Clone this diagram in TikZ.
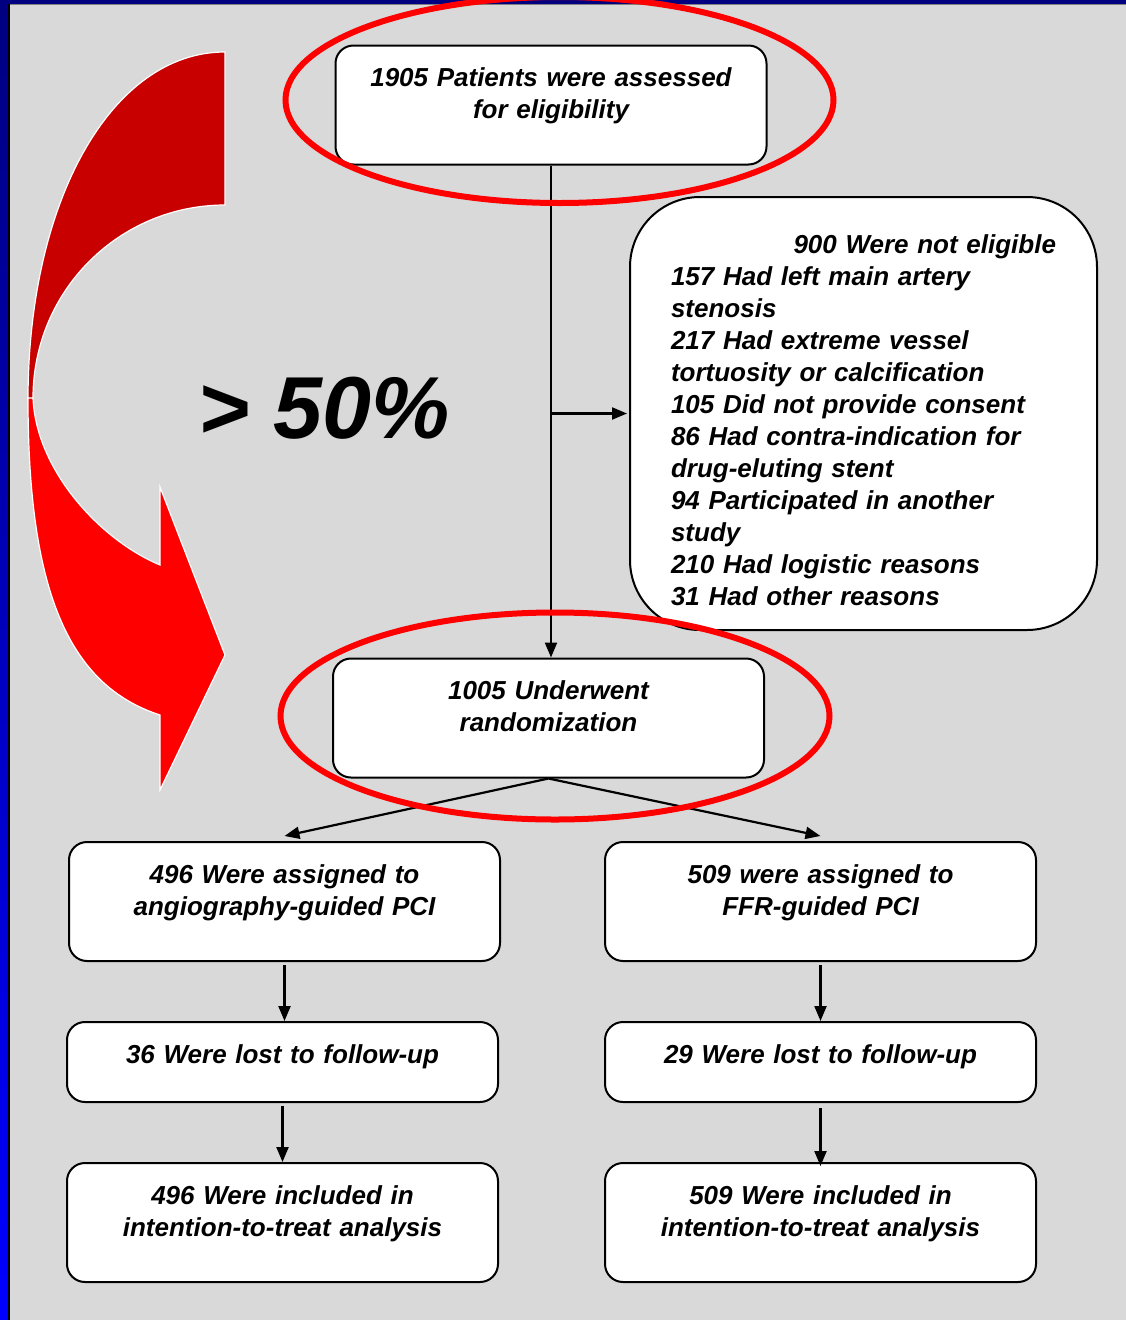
\documentclass[tikz,border=0pt]{standalone}
\usepackage{fontspec}
\setmainfont{Liberation Sans}
\usetikzlibrary{arrows.meta}
\definecolor{slide}{RGB}{217,217,217}
\definecolor{navy}{RGB}{0,0,128}
\definecolor{darkred}{RGB}{200,0,0}
\newcommand{\boxfont}{\fontsize{26}{32}\selectfont\bfseries\itshape}

\begin{document}
\begin{tikzpicture}[x=1pt, y=-1pt,
  box/.style={draw, line width=2pt, fill=white, rounded corners=18pt,
    text width=411pt, inner xsep=10pt, inner ysep=0pt, align=center,
    text height=41pt, font=\boxfont},
  tall/.style={text depth=78pt},
  flat/.style={text depth=39pt},
  arr/.style={-{Triangle[length=15pt,width=12pt]}, line width=2.2pt},
  ring/.style={red, line width=6pt},
  ribbon/.style={draw=white, line width=1.2pt}]
\useasboundingbox (0,0) rectangle (1126,1320);
% slide background and frame
\fill[slide] (0,0) rectangle (1126,1320);
\shade[top color=navy, bottom color=blue] (0,0) rectangle (8,1320);
\fill[navy] (0,0) rectangle (1126,4);
\draw[gray, line width=1.2pt] (9,4.6) -- (1126,4.6);
\draw[black, line width=1.8pt] (8.9,4) -- (8.9,1320);

% curved arrow on the left
\filldraw[ribbon, fill=darkred] (225,52) .. controls (112,52) and (28,200) .. (28,400)
  -- (33,398) .. controls (33,290) and (120,205) .. (225,205) -- cycle;
\filldraw[ribbon, fill=red] (28,398) .. controls (28,590) and (68,685) .. (160,715)
  -- (160,790) -- (225,655) -- (160,487) -- (160,565)
  .. controls (100,540) and (36,470) .. (33,398) -- cycle;
\node[font=\fontsize{88}{88}\selectfont\bfseries\itshape, inner sep=0pt] (ratio) at (324,408) {> 50\%};

% flow chart
\node[box, tall] (elig) at (551,105) {1905 Patients were assessed\\for eligibility};
\node[box, text width=385pt, inner xsep=41pt, rounded corners=70pt, align=left,
  text height=56pt, text depth=377pt] (excl) at (863.5,413.5)
  {\hspace*{\fill}900 Were not eligible\\
   157 Had left main artery\\
   stenosis\\
   217 Had extreme vessel\\
   tortuosity or calcification\\
   105 Did not provide consent\\
   86 Had contra-indication for\\
   drug-eluting stent\\
   94 Participated in another\\
   study\\
   210 Had logistic reasons\\
   31 Had other reasons};
\node[box, tall] (rand) at (548.5,718) {1005 Underwent\\randomization};
\node[box, tall] (angio) at (284.5,901.5) {496 Were assigned to\\angiography-guided PCI};
\node[box, tall] (ffr) at (820.5,901.5) {509 were assigned to\\FFR-guided PCI};
\node[box, flat] (lostA) at (282.5,1062) {36 Were lost to follow-up};
\node[box, flat] (lostB) at (820.5,1062) {29 Were lost to follow-up};
\node[box, tall] (ittA) at (282.5,1222.5) {496 Were included in\\intention-to-treat analysis};
\node[box, tall] (ittB) at (820.5,1222.5) {509 Were included in\\intention-to-treat analysis};

\draw[arr] (elig.south) -- (elig.south |- rand.north);
\draw[arr] (elig.south |- excl.west) -- ([xshift=-2pt]excl.west);
\draw[arr] (rand.south) -- ([yshift=5pt]angio.north);
\draw[arr] (rand.south) -- ([yshift=5pt]ffr.north);
\draw[arr] ([yshift=-3pt]angio.south) -- (angio.south |- lostA.north);
\draw[arr] ([yshift=-3pt]ffr.south) -- (ffr.south |- lostB.north);
\draw[arr] ([yshift=-3pt]lostA.south) -- (lostA.south |- ittA.north);
\draw[arr] ([yshift=-5pt]lostB.south) -- ([yshift=-4pt]lostB.south |- ittB.north);

% highlight rings
\draw[ring] (559.5,100) ellipse (274 and 103);
\draw[ring] (555,716) ellipse (274.5 and 103.5);
\end{tikzpicture}
\end{document}
